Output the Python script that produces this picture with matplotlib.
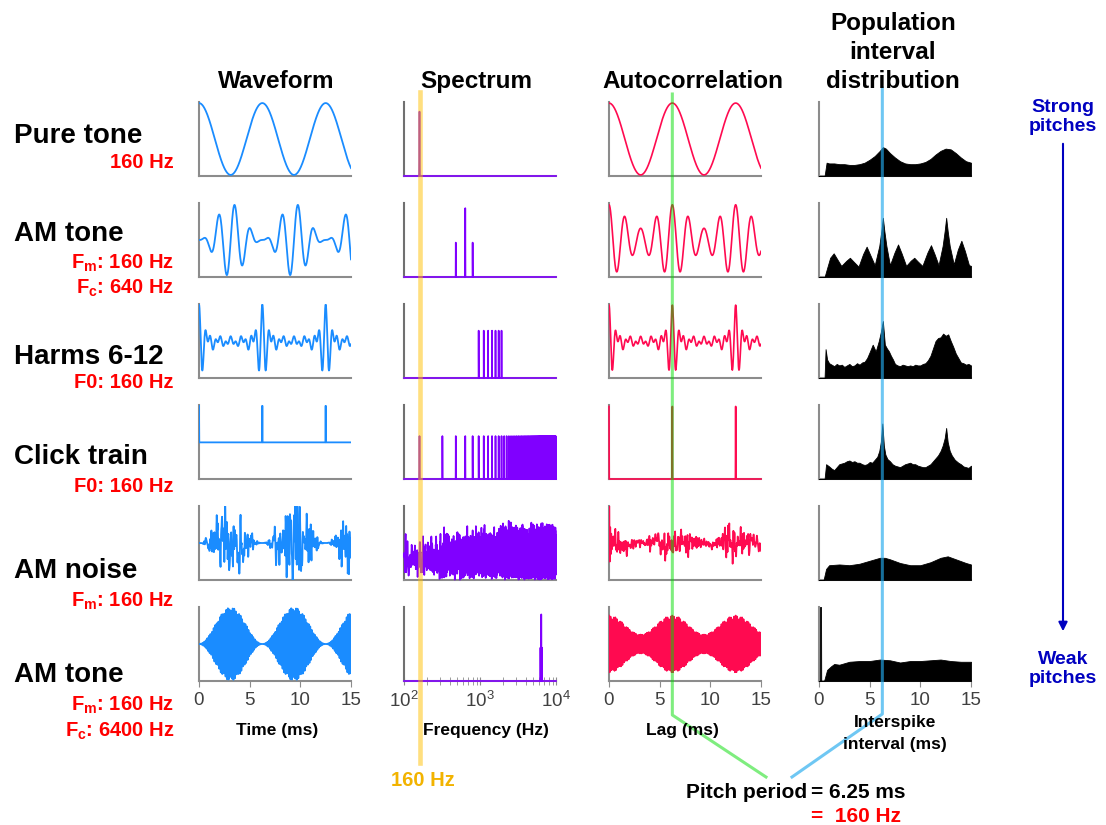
import numpy as np
import matplotlib
matplotlib.use("Agg")
import matplotlib.pyplot as plt
from matplotlib.lines import Line2D
from matplotlib.patches import FancyArrowPatch
from matplotlib.ticker import LogLocator, NullFormatter

plt.rcParams['font.family'] = ['Liberation Sans', 'DejaVu Sans']
plt.rcParams['mathtext.fontset'] = 'custom'
plt.rcParams['mathtext.rm'] = 'Liberation Sans'
plt.rcParams['mathtext.bf'] = 'Liberation Sans:bold'
plt.rcParams['mathtext.it'] = 'Liberation Sans:italic'

W, H = 1106, 825

# stimulus parameters
fs = 40000
f0 = 160.0
fc_am = 640.0
fc_hi = 6400.0
harmonics = [6, 7, 8, 9, 10, 11, 12]
noise_lo, noise_hi = 100.0, 10000.0
pitch_period_ms = 6.25

row_names = ["Pure tone", "AM tone", "Harms 6-12", "Click train", "AM noise", "AM tone"]
row_params = [["160 Hz"],
              [r"F$_\mathbf{m}$: 160 Hz", r"F$_\mathbf{c}$: 640 Hz"],
              ["F0: 160 Hz"],
              ["F0: 160 Hz"],
              [r"F$_\mathbf{m}$: 160 Hz"],
              [r"F$_\mathbf{m}$: 160 Hz", r"F$_\mathbf{c}$: 6400 Hz"]]

# population interval distributions (interval in ms, relative count)
isi_t_pure = [0, 0.55, 0.75, 1.0, 1.5, 2.0, 2.5, 3.0, 3.5, 4.0, 4.5, 5.0, 5.5, 6.0, 6.3, 6.6, 7.0, 7.5,
              8.0, 8.5, 9.0, 9.5, 10.0, 10.5, 11.0, 11.5, 12.0, 12.5, 13.0, 13.5, 14.0, 14.5, 15.0]
isi_h_pure = [0, 0, 0.18, 0.17, 0.17, 0.16, 0.16, 0.15, 0.15, 0.16, 0.18, 0.22, 0.27, 0.34, 0.39, 0.37,
              0.31, 0.25, 0.2, 0.17, 0.16, 0.16, 0.17, 0.19, 0.23, 0.29, 0.34, 0.37, 0.36, 0.31, 0.25, 0.2, 0.18]

isi_t_am = [0, 0.55, 0.8, 1.1, 1.45, 1.8, 2.2, 2.7, 3.05, 3.4, 3.9, 4.35, 4.7, 5.05, 5.5, 5.95, 6.15, 6.3,
            6.45, 6.65, 7.0, 7.45, 7.8, 8.15, 8.6, 9.05, 9.4, 9.75, 10.2, 10.7, 11.05, 11.4, 11.8, 12.2,
            12.4, 12.55, 12.7, 12.9, 13.3, 13.7, 14.05, 14.4, 14.8, 15.0]
isi_h_am = [0, 0, 0.12, 0.26, 0.32, 0.24, 0.15, 0.22, 0.26, 0.21, 0.14, 0.31, 0.41, 0.3, 0.16, 0.42, 0.62, 0.8,
            0.62, 0.42, 0.16, 0.33, 0.44, 0.32, 0.15, 0.22, 0.26, 0.21, 0.15, 0.33, 0.43, 0.31, 0.16, 0.42,
            0.62, 0.8, 0.62, 0.42, 0.17, 0.37, 0.49, 0.35, 0.16, 0.15]

isi_t_harm = [0, 0.55, 0.65, 0.8, 1.0, 1.25, 1.5, 1.75, 2.0, 2.25, 2.5, 2.75, 3.0, 3.25, 3.5, 3.75, 4.0,
              4.25, 4.5, 4.75, 5.0, 5.3, 5.6, 5.9, 6.1, 6.3, 6.5, 6.7, 6.9, 7.1, 7.3, 7.5, 7.75, 8.0, 8.25,
              8.5, 8.75, 9.0, 9.25, 9.5, 9.75, 10.0, 10.25, 10.5, 10.75, 11.0, 11.25, 11.5, 11.75, 12.0,
              12.25, 12.5, 12.75, 13.0, 13.25, 13.5, 13.75, 14.0, 14.25, 14.5, 14.75, 15.0]
isi_h_harm = [0, 0, 0.39, 0.25, 0.2, 0.18, 0.16, 0.19, 0.17, 0.18, 0.15, 0.17, 0.19, 0.16, 0.17, 0.2,
              0.18, 0.21, 0.22, 0.27, 0.35, 0.45, 0.36, 0.5, 0.62, 0.77, 0.45, 0.4, 0.36, 0.3, 0.25, 0.19,
              0.17, 0.16, 0.18, 0.17, 0.16, 0.17, 0.16, 0.18, 0.17, 0.17, 0.19, 0.2, 0.24, 0.3, 0.4, 0.5,
              0.54, 0.55, 0.6, 0.57, 0.59, 0.5, 0.42, 0.33, 0.27, 0.21, 0.2, 0.18, 0.19, 0.17]

isi_t_click = [0, 0.55, 0.7, 1.0, 1.25, 1.5, 1.75, 2.0, 2.25, 2.5, 2.75, 3.0, 3.25, 3.5, 3.75, 4.0, 4.25,
               4.5, 4.75, 5.0, 5.25, 5.5, 5.75, 5.95, 6.1, 6.25, 6.4, 6.55, 6.75, 7.0, 7.25, 7.5, 7.75,
               8.0, 8.25, 8.5, 8.75, 9.0, 9.25, 9.5, 9.75, 10.0, 10.25, 10.5, 10.75, 11.0, 11.25, 11.5,
               11.75, 12.0, 12.2, 12.4, 12.55, 12.7, 12.9, 13.1, 13.4, 13.75, 14.0, 14.25, 14.5, 14.75, 15.0]
isi_h_click = [0, 0, 0.2, 0.17, 0.14, 0.12, 0.16, 0.2, 0.21, 0.22, 0.24, 0.25, 0.23, 0.24, 0.22, 0.22,
               0.2, 0.19, 0.2, 0.23, 0.22, 0.26, 0.3, 0.38, 0.5, 0.75, 0.45, 0.33, 0.27, 0.24, 0.2, 0.18,
               0.17, 0.16, 0.18, 0.2, 0.21, 0.22, 0.2, 0.2, 0.18, 0.17, 0.16, 0.16, 0.18, 0.2, 0.24, 0.28,
               0.32, 0.38, 0.45, 0.55, 0.69, 0.5, 0.38, 0.32, 0.26, 0.22, 0.2, 0.17, 0.16, 0.15, 0.18]

isi_t_noise = [0, 0.45, 0.7, 1.0, 2.0, 3.0, 4.0, 5.0, 6.0, 6.5, 7.0, 8.0, 9.0, 10.0, 11.0, 12.0, 12.7,
               13.5, 14.5, 15.0]
isi_h_noise = [0, 0, 0.15, 0.2, 0.21, 0.2, 0.22, 0.26, 0.3, 0.3, 0.28, 0.23, 0.2, 0.2, 0.24, 0.3, 0.32,
               0.28, 0.23, 0.21]

isi_t_hi = [0, 0.08, 0.1, 0.2, 0.22, 0.5, 0.8, 1.2, 1.5, 2.0, 3.0, 4.0, 5.0, 6.0, 7.0, 8.0, 9.0, 10.0,
            11.0, 12.0, 13.0, 14.0, 15.0]
isi_h_hi = [0, 0, 1.0, 1.0, 0, 0, 0.15, 0.2, 0.23, 0.22, 0.26, 0.27, 0.27, 0.29, 0.28, 0.25, 0.27, 0.27,
            0.28, 0.29, 0.27, 0.26, 0.26]

isi_rows = [(isi_t_pure, isi_h_pure), (isi_t_am, isi_h_am), (isi_t_harm, isi_h_harm),
            (isi_t_click, isi_h_click), (isi_t_noise, isi_h_noise), (isi_t_hi, isi_h_hi)]

# ---- stimuli, one second each
t = np.arange(fs) / fs
env = 1 - np.cos(2 * np.pi * f0 * t)

pure = np.cos(2 * np.pi * f0 * t)
am_low = env * np.sin(2 * np.pi * fc_am * t)
harm = sum(np.cos(2 * np.pi * k * f0 * t) for k in harmonics)
clicks = np.zeros_like(t)
clicks[::int(fs / f0)] = 1.0

# flat-spectrum carrier, phases from a sine hash
freqs = np.fft.rfftfreq(len(t), 1 / fs)
kk = np.arange(len(freqs))
phases = 2 * np.pi * np.modf(np.abs(np.sin(kk * 12.9898)) * 43758.5453)[0]
band = (freqs >= noise_lo) & (freqs <= noise_hi)
carrier = np.fft.irfft(band * np.exp(1j * phases), n=len(t))
carrier /= carrier.std()
am_noise = env * carrier
am_high = env * np.sin(2 * np.pi * fc_hi * t)

signals = [pure, am_low, harm, clicks, am_noise, am_high]

n15 = int(0.015 * fs) + 1
t_ms = t[:n15] * 1000

win = np.hanning(len(t))
sel = (freqs >= 100) & (freqs <= 10000)


def spectrum(x):
    return np.abs(np.fft.rfft(x * win))[sel]


def acf(x, short=False):
    if short:
        # unbiased estimate over a 30 ms stretch
        seg = x[:1200]
        r = np.correlate(seg, seg, 'full')[len(seg) - 1:]
        r = r / (len(seg) - np.arange(len(seg)))
    else:
        X = np.fft.rfft(x)
        r = np.fft.irfft(np.abs(X) ** 2, n=len(x))
    r = r[:n15]
    return r / r[0]


wave_color = '#1a8cff'
spec_color = '#8000ff'
acf_color = '#ff0a50'
spine_color = '#8c8c8c'

wave_lims = [(-1.03, 1.03), (-2.03, 2.03), (-6.9, 7.1), (-1.0, 1.02), None, (-2.03, 2.03)]
acf_lims = [(-1.03, 1.03), (-1.05, 1.05), (-1.0, 1.03), (0, 1.02), None, (-1.3, 1.3)]
spec_top = [0.87, 0.93, 0.64, 0.58, 0.8, 0.9]

col_x = [199, 404, 609, 819]
col_w = 152
row_top = [102, 203, 304, 405, 506, 607]
row_h = 74

fig = plt.figure(figsize=(W / 100, H / 100), dpi=100)


def px(x, y):
    return x / W, 1 - y / H


def make_axes(col, row):
    ax = fig.add_axes([col_x[col] / W, 1 - (row_top[row] + row_h) / H, col_w / W, row_h / H])
    for side in ['top', 'right']:
        ax.spines[side].set_visible(False)
    for side in ['left', 'bottom']:
        ax.spines[side].set_color(spine_color)
        ax.spines[side].set_linewidth(1.5)
    ax.set_yticks([])
    ax.patch.set_alpha(0)
    return ax


axes_grid = []
for r, x in enumerate(signals):
    row_axes = []

    # waveform
    ax = make_axes(0, r)
    seg = x[:n15]
    ax.plot(t_ms, seg, color=wave_color, lw=1.3, zorder=3)
    ax.set_xlim(0, 15)
    if wave_lims[r] is None:
        m = np.percentile(np.abs(seg), 98.5) * 1.1
        ax.set_ylim(-m, m)
    else:
        ax.set_ylim(*wave_lims[r])
    row_axes.append(ax)

    # spectrum
    ax = make_axes(1, r)
    s = spectrum(x)
    ax.plot(freqs[sel], s, color=spec_color, lw=1.2, zorder=3, clip_on=False)
    ax.set_xscale('log')
    ax.set_xlim(100, 10000)
    ax.set_ylim(0, s.max() / spec_top[r])
    ax.spines['left'].set_color('#707070')
    row_axes.append(ax)

    # autocorrelation
    ax = make_axes(2, r)
    rr = acf(x, short=(r == 4))
    ax.plot(t_ms, rr, color=acf_color, lw=1.2, zorder=3, clip_on=(r != 3))
    ax.set_xlim(0, 15)
    if acf_lims[r] is None:
        # zero-lag peak runs off the top, the noisy tail sits in the middle
        m = 7 * rr[12:].std()
        ax.set_ylim(-m, m)
    else:
        ax.set_ylim(*acf_lims[r])
    row_axes.append(ax)

    # interval distribution
    ax = make_axes(3, r)
    it, ih = isi_rows[r]
    ax.fill_between(it, ih, color='black', lw=0.6, zorder=3)
    ax.set_xlim(0, 15)
    ax.set_ylim(0, 1)
    row_axes.append(ax)

    for c, ax in enumerate(row_axes):
        if r < 5:
            ax.set_xticks([])
            ax.xaxis.set_minor_locator(plt.NullLocator())
        else:
            if c == 1:
                ax.set_xticks([100, 1000, 10000], [r'$10^{2}$', r'$10^{3}$', r'$10^{4}$'])
                ax.xaxis.set_minor_locator(LogLocator(base=10, subs=np.arange(2, 10)))
                ax.xaxis.set_minor_formatter(NullFormatter())
                ax.tick_params(axis='x', which='both', direction='inout', length=6, color=spine_color)
            else:
                ax.set_xticks([0, 5, 10, 15], ['0', '5', '10', '15'])
                ax.tick_params(axis='x', direction='out', length=4, color=spine_color)
            ax.tick_params(axis='x', labelsize=13.5, labelcolor='#404040', pad=4)
    axes_grid.append(row_axes)

# column titles
title_kw = dict(fontsize=17.5, fontweight='bold', ha='center', va='baseline')
fig.text(*px(276, 88), "Waveform", **title_kw)
fig.text(*px(476, 88), "Spectrum", **title_kw)
fig.text(*px(693, 88), "Autocorrelation", **title_kw)
fig.text(*px(893, 30), "Population", **title_kw)
fig.text(*px(893, 59), "interval", **title_kw)
fig.text(*px(893, 88), "distribution", **title_kw)

# row labels
name_y = [136, 234, 357, 457, 571, 675]
param_y = [[162], [263, 288], [382], [486], [601], [705, 731]]
for name, ny, params, pys in zip(row_names, name_y, row_params, param_y):
    fig.text(*px(14, ny), name, fontsize=20, fontweight='bold', ha='left', va='center')
    for p, py in zip(params, pys):
        fig.text(*px(174, py), p, fontsize=14.5, fontweight='bold', color='#ff0000',
                 ha='right', va='center')

# axis labels
lab_kw = dict(fontsize=12.5, fontweight='bold', ha='center', va='center')
fig.text(*px(277, 731), "Time (ms)", **lab_kw)
fig.text(*px(486, 731), "Frequency (Hz)", **lab_kw)
fig.text(*px(682, 731), "Lag (ms)", **lab_kw)
fig.text(*px(895, 722), "Interspike", **lab_kw)
fig.text(*px(895, 744), "interval (ms)", **lab_kw)


def data_x(ax, xval):
    return ax.transData.transform((xval, 0))[0]


spec_ax = axes_grid[0][1]
acf_ax = axes_grid[0][2]
isi_ax = axes_grid[0][3]

xf = data_x(spec_ax, f0)
fig.add_artist(Line2D([xf / W, xf / W], [1 - 92 / H, 1 - 763 / H], transform=fig.transFigure,
                      color='#ffc000', alpha=0.5, lw=3.3))
fig.text(*px(xf + 3, 781), "160 Hz", fontsize=14.5, fontweight='bold', color='#f2b300',
         ha='center', va='center')

xg = data_x(acf_ax, pitch_period_ms)
fig.add_artist(Line2D([xg / W, xg / W, 766 / W], [1 - 94 / H, 1 - 715 / H, 1 - 777 / H],
                      transform=fig.transFigure, color='#00dd00', alpha=0.5, lw=2.2))

xb = data_x(isi_ax, pitch_period_ms)
fig.add_artist(Line2D([xb / W, xb / W, 792 / W], [1 - 88 / H, 1 - 714 / H, 1 - 777 / H],
                      transform=fig.transFigure, color='#22aaee', alpha=0.65, lw=2.2))

fig.text(*px(807, 792), "Pitch period", fontsize=15, fontweight='bold', ha='right', va='center')
fig.text(*px(811, 792), "= 6.25 ms", fontsize=15, fontweight='bold', ha='left', va='center')
fig.text(*px(811, 817), "=  160 Hz", fontsize=15, fontweight='bold', color='#ff0000',
         ha='left', va='center')

# strength of pitch, top to bottom
blue = '#0000c0'
fig.text(*px(1063, 117), "Strong\npitches", fontsize=14, fontweight='bold', color=blue,
         ha='center', va='center', linespacing=1.2)
fig.text(*px(1063, 669), "Weak\npitches", fontsize=14, fontweight='bold', color=blue,
         ha='center', va='center', linespacing=1.2)
fig.add_artist(FancyArrowPatch(px(1063, 141), px(1063, 634), transform=fig.transFigure,
                               arrowstyle='-|>', mutation_scale=13, color=blue, lw=1.5))

fig.savefig("out.png", dpi=100)
